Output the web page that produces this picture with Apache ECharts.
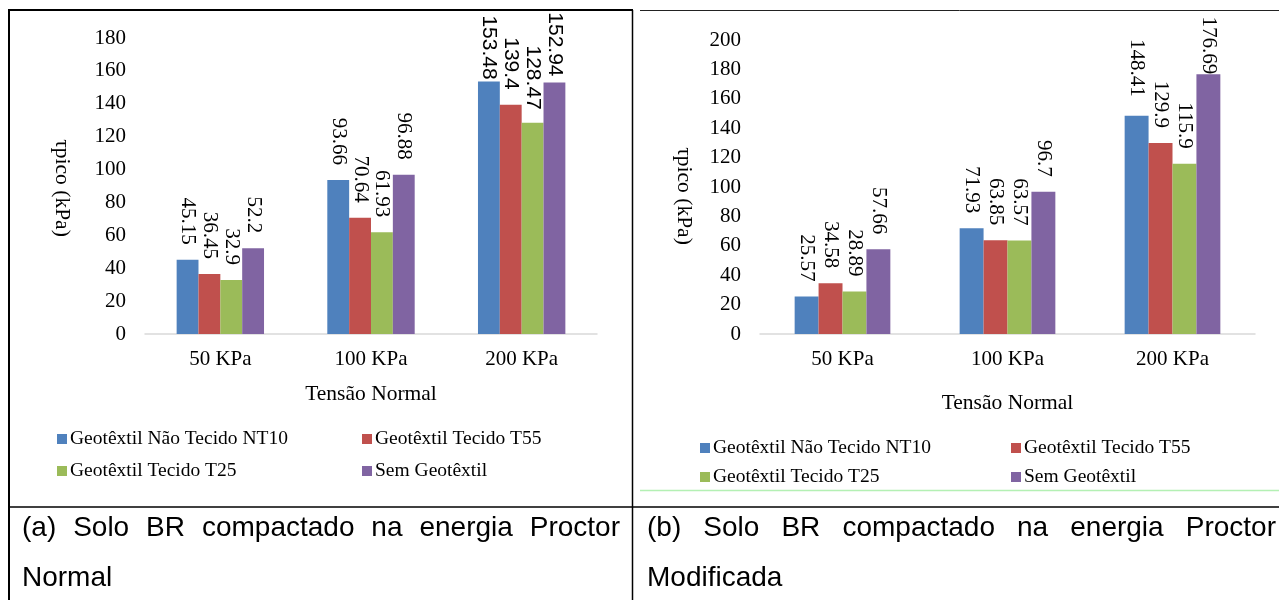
<!DOCTYPE html>
<html>
<head>
<meta charset="utf-8">
<script src="https://cdn.jsdelivr.net/npm/echarts@6/dist/echarts.min.js"></script>
<style>
html,body{margin:0;padding:0;background:#fff;}
#c{width:1279px;height:600px;}
</style>
</head>
<body>
<div id="c"></div>
<script>
// ---- data ----
const categories = ['50 KPa', '100 KPa', '200 KPa'];
const seriesNames = ['Geotêxtil Não Tecido NT10', 'Geotêxtil Tecido T55', 'Geotêxtil Tecido T25', 'Sem Geotêxtil'];
const normalNT10 = [45.15, 93.66, 153.48];
const normalT55  = [36.45, 70.64, 139.4];
const normalT25  = [32.9, 61.93, 128.47];
const normalSem  = [52.2, 96.88, 152.94];
const modNT10 = [25.57, 71.93, 148.41];
const modT55  = [34.58, 63.85, 129.9];
const modT25  = [28.89, 63.57, 115.9];
const modSem  = [57.66, 96.7, 176.69];
const yTicksLeft = {min: 0, max: 180, interval: 20};
const yTicksRight = {min: 0, max: 200, interval: 20};
const xAxisTitle = 'Tensão Normal';
const yAxisTitle = 'τpico (kPa)';
const captionA = ['(a) Solo BR compactado na energia Proctor', 'Normal'];
const captionB = ['(b) Solo BR compactado na energia Proctor', 'Modificada'];

// ---- style ----
const colors = ['#4F81BD', '#C0504D', '#9BBB59', '#8064A2'];
const SERIF = '"Liberation Serif", "Times New Roman", serif';
const SANS = '"Liberation Sans", Arial, sans-serif';

const chart = echarts.init(document.getElementById('c'), null, {renderer: 'canvas'});

function labelCfg(dist) {
  return {
    show: true, position: 'top', rotate: -90, align: 'right', verticalAlign: 'middle',
    distance: dist, fontFamily: SERIF, fontSize: 21, color: '#000'
  };
}

function buildSeries(values, idx, gridIdx, overrides, sansIdx) {
  return {
    name: seriesNames[idx], type: 'bar', xAxisIndex: gridIdx, yAxisIndex: gridIdx,
    barGap: '0%', barCategoryGap: '42%',
    itemStyle: {color: colors[idx]},
    label: labelCfg(15),
    data: values.map((v, i) => {
      const o = {value: v};
      const lab = {};
      if (overrides && overrides[i] != null) lab.distance = overrides[i];
      if (sansIdx != null && sansIdx === i) lab.fontFamily = SANS;
      if (Object.keys(lab).length) o.label = lab;
      return o;
    })
  };
}

const leftSets = [normalNT10, normalT55, normalT25, normalSem];
const rightSets = [modNT10, modT55, modT25, modSem];
const leftOverrides = [[null, null, 2], [null, null, 15], [null, null, 13], [null, null, 6]];
const rightOverrides = [[null, null, 19], [null, null, 15], [null, null, 15], [null, null, 0]];

const series = [];
leftSets.forEach((s, i) => series.push(buildSeries(s, i, 0, leftOverrides[i], 2)));
rightSets.forEach((s, i) => series.push(buildSeries(s, i, 1, rightOverrides[i], null)));

function xAxisCfg(gridIdx, nameGap) {
  return {
    type: 'category', gridIndex: gridIdx, data: categories,
    axisLine: {lineStyle: {color: '#d9d9d9', width: 1.5}},
    axisTick: {show: false},
    axisLabel: {fontFamily: SERIF, fontSize: 21, color: '#000', margin: 15},
    name: xAxisTitle, nameLocation: 'middle', nameGap: nameGap,
    nameTextStyle: {fontFamily: SERIF, fontSize: 21.5, color: '#000'}
  };
}
function yAxisCfg(gridIdx, ticks, nameGap, pad) {
  return {
    type: 'value', gridIndex: gridIdx, min: ticks.min, max: ticks.max, interval: ticks.interval,
    axisLine: {show: false}, axisTick: {show: false}, splitLine: {show: false},
    axisLabel: {fontFamily: SERIF, fontSize: 21, color: '#000', margin: 19},
    name: yAxisTitle, nameLocation: 'middle', nameGap: nameGap, nameRotate: -90,
    nameTextStyle: {fontFamily: SERIF, fontSize: 21.5, color: '#000', padding: pad}
  };
}

function legendAt(name, left, top) {
  return {
    data: [name], left: left, top: top, orient: 'horizontal', icon: 'rect',
    itemWidth: 10, itemHeight: 10, itemGap: 0, padding: 0,
    selectedMode: false,
    textStyle: {fontFamily: SERIF, fontSize: 19.5, color: '#000', padding: [0, 0, 0, -2]}
  };
}

// justified caption words
const measureCtx = document.createElement('canvas').getContext('2d');
function justifiedLine(text, x0, x1, y, font) {
  measureCtx.font = font;
  const words = text.split(' ');
  const widths = words.map(w => measureCtx.measureText(w).width);
  const total = widths.reduce((a, b) => a + b, 0);
  const gap = (x1 - x0 - total) / (words.length - 1);
  const out = [];
  let x = x0;
  words.forEach((w, i) => {
    out.push({type: 'text', style: {text: w, x: x, y: y, font: font, fill: '#000', verticalAlign: 'middle'}});
    x += widths[i] + gap;
  });
  return out;
}
const capFont = '28px "Liberation Sans", Arial, sans-serif';

const graphics = [
  {type: 'line', shape: {x1: 8, y1: 10, x2: 633, y2: 10}, style: {stroke: '#000', lineWidth: 2}},
  {type: 'line', shape: {x1: 9, y1: 10, x2: 9, y2: 600}, style: {stroke: '#000', lineWidth: 2}},
  {type: 'line', shape: {x1: 632.5, y1: 10, x2: 632.5, y2: 600}, style: {stroke: '#000', lineWidth: 1.5}},
  {type: 'line', shape: {x1: 640, y1: 10.5, x2: 1279, y2: 10.5}, style: {stroke: '#222', lineWidth: 1}},
  {type: 'line', shape: {x1: 9, y1: 507, x2: 1279, y2: 507}, style: {stroke: '#000', lineWidth: 1.5}},
  {type: 'line', shape: {x1: 640, y1: 490.5, x2: 1279, y2: 490.5}, style: {stroke: '#b4f0b4', lineWidth: 1.5}},
  ...justifiedLine(captionA[0], 22, 620, 528, capFont),
  {type: 'text', style: {text: captionA[1], x: 22, y: 578, font: capFont, fill: '#000', verticalAlign: 'middle'}},
  ...justifiedLine(captionB[0], 647, 1276, 528, capFont),
  {type: 'text', style: {text: captionB[1], x: 647, y: 578, font: capFont, fill: '#000', verticalAlign: 'middle'}}
];

chart.setOption({
  animation: false,
  backgroundColor: '#fff',
  grid: [
    {left: 145, top: 38, width: 452, height: 296},
    {left: 760, top: 40, width: 495, height: 294}
  ],
  xAxis: [xAxisCfg(0, 49), xAxisCfg(1, 58)],
  yAxis: [yAxisCfg(0, yTicksLeft, 72, [0, 0, 0, 4]), yAxisCfg(1, yTicksRight, 65, [0, 0, 0, 18])],
  legend: [
    legendAt(seriesNames[0], 57, 429),
    legendAt(seriesNames[1], 362, 429),
    legendAt(seriesNames[2], 57, 461),
    legendAt(seriesNames[3], 362, 461),
    legendAt(seriesNames[0], 700, 438),
    legendAt(seriesNames[1], 1011, 438),
    legendAt(seriesNames[2], 700, 467),
    legendAt(seriesNames[3], 1011, 467)
  ],
  series: series,
  graphic: graphics
});
</script>
</body>
</html>
